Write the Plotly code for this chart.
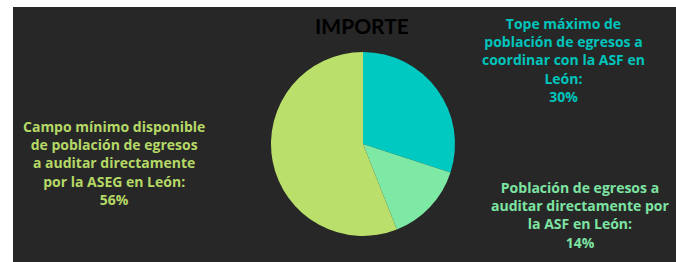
import plotly.graph_objects as go

# Data
categories = [
    "Tope máximo de<br>población de egresos a<br>coordinar con la ASF en<br>León:",
    "Población de egresos a<br>auditar directamente por<br>la ASF en León:",
    "Campo mínimo disponible<br>de población de egresos<br>a auditar directamente<br>por la ASEG en León:",
]
values = [30, 14, 56]
slice_colors = ["#00C9C1", "#7DE9A5", "#BADF6A"]
label_colors = ["#00C4BC", "#7DE3A2", "#B5D866"]
title_text = "IMPORTE"

W, H = 676, 262
label_pos = [(563, 60), (580, 215), (114, 163)]

fig = go.Figure()
fig.add_trace(go.Pie(
    labels=[c.replace("<br>", " ") for c in categories],
    values=values,
    sort=False,
    direction="clockwise",
    rotation=0,
    marker=dict(colors=slice_colors, line=dict(width=0)),
    textinfo="none",
    hoverinfo="label+percent",
    showlegend=False,
    domain=dict(x=[(363 - 92) / W, (363 + 92) / W], y=[1 - 236 / H, 1 - 52 / H]),
))

total = sum(values)
for cat, v, col, (px, py) in zip(categories, values, label_colors, label_pos):
    fig.add_annotation(
        x=px / W, y=1 - py / H, xref="paper", yref="paper",
        text=f"{cat}<br>{round(100 * v / total)}%",
        showarrow=False, align="center", xanchor="center", yanchor="middle",
        font=dict(family="Open Sans", size=14, color=col, weight="bold"),
    )

fig.update_layout(
    width=W, height=H,
    margin=dict(l=0, r=0, t=0, b=0),
    paper_bgcolor="white",
    title=dict(text=title_text, x=362 / W, y=1 - 27 / H, xanchor="center", yanchor="middle",
               font=dict(family="Lato", size=21, color="#000000", weight="bold")),
    shapes=[dict(type="rect", xref="paper", yref="paper", x0=13 / W, x1=1, y0=0, y1=1 - 7 / H,
                 fillcolor="#272727", line=dict(width=0), layer="below")],
)

fig.write_html(
    "out.html",
    config={"displayModeBar": False},
    post_script="document.body.style.margin='0';document.body.style.overflow='hidden';",
)
